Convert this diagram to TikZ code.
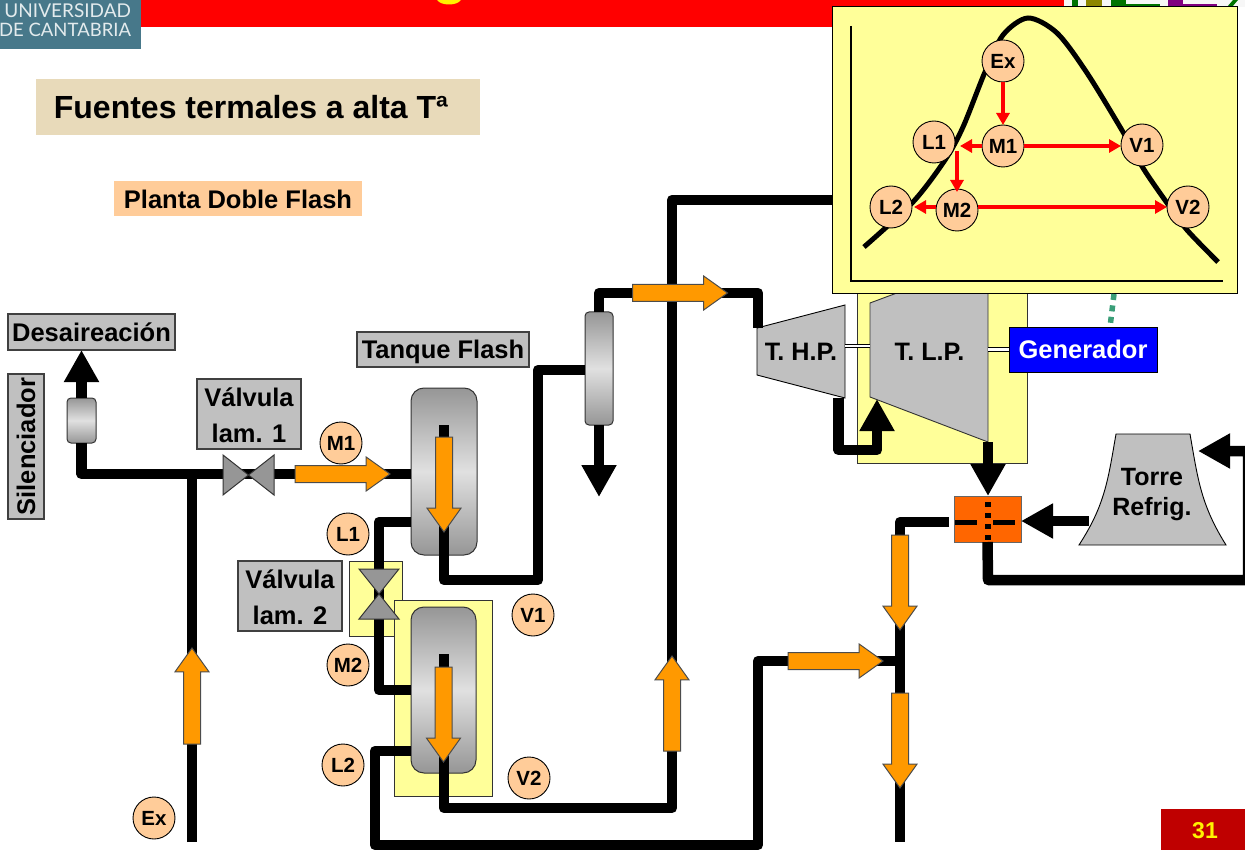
\documentclass[tikz,border=0pt]{standalone}
\usepackage{fontspec}
\setmainfont{Liberation Sans}
\newfontfamily\logofont{Lato}
\usetikzlibrary{arrows.meta,shapes.arrows}
\definecolor{panelyellow}{HTML}{FFFF99}
\definecolor{bubblepeach}{HTML}{FFCC99}
\definecolor{blockgray}{HTML}{C0C0C0}
\definecolor{valvegray}{HTML}{969696}
\definecolor{flowamber}{HTML}{FF9900}
\definecolor{logoteal}{HTML}{47788A}
\definecolor{parchment}{HTML}{E8DABA}
\definecolor{dotgreen}{HTML}{3A9E78}
\begin{document}
\begin{tikzpicture}[x=1pt, y=-1pt,
  every node/.style={inner sep=0pt, outer sep=0pt},
  labeltext/.style={font=\bfseries\fontsize{25.5}{36}\selectfont, align=center, text height=18pt, text depth=0pt},
  panel/.style={draw=black!80, line width=0.8pt, fill=panelyellow},
  grayblock/.style={labeltext, draw=black!75, line width=1.1pt, fill=blockgray},
  bubble/.style={circle, draw=black, line width=0.9pt, fill=bubblepeach, minimum size=42pt,
    font=\bfseries\fontsize{20.5}{24}\selectfont},
  vessel/.style={draw=black!80, line width=1pt, top color=valvegray, bottom color=valvegray, middle color=black!12},
  pipe/.style={line width=10.5pt, line join=round},
  blackflow/.style={pipe, -{Triangle[length=32pt, width=33pt]}},
  steam/.style={draw=black!70, line width=1pt, fill=flowamber, single arrow, anchor=tail, inner xsep=0pt, inner ysep=8pt,
    minimum width=33pt, minimum height=95pt, single arrow head extend=8.5pt, single arrow tip angle=71, single arrow head indent=0pt},
  shaftline/.style={double, double distance=2.4pt, line width=1pt},
  redflow/.style={red, line width=4pt, -{Triangle[length=12pt, width=13pt]}}]
\clip (0,0) rectangle (1245,850);
\useasboundingbox (0,0) rectangle (1245,850);
\fill[red] (141,0) rectangle (1064,27);
\fill[yellow] (437,0) .. controls (441,6) and (457,6) .. (461,0) -- cycle;
\fill[logoteal] (0,0) rectangle (141,49);
\node[anchor=east, text=white!85!logoteal, font=\logofont\fontsize{19}{20}\selectfont] (logoa) at (131,10.5) {UNIVERSIDAD};
\node[anchor=east, text=white!85!logoteal, font=\logofont\fontsize{18.5}{20}\selectfont] (logob) at (131,30) {DE CANTABRIA};
\fill[black!3] (1064,0) rectangle (1245,7);
\fill[green!45!black] (1072,0) rectangle (1078,7);
\fill[olive] (1086,0) rectangle (1102,7);
\fill[green!45!black] (1111,0) rectangle (1126,7);
\fill[green!45!black] (1126,4) rectangle (1160,7);
\fill[violet] (1168,0) rectangle (1183,7);
\fill[violet] (1183,4) rectangle (1217,7);
\fill[green!45!black] (1233,0) -- (1238,0) -- (1232,7) -- (1227,7) -- cycle;
\node[font=\bfseries\fontsize{32}{36}\selectfont, fill=parchment, text height=22.6pt, text depth=0pt, minimum width=444pt, minimum height=56pt] (fuentes) at (258,107) {Fuentes termales a alta Tª\kern14pt};
\node[labeltext, text height=21pt, fill=bubblepeach, minimum width=248pt, minimum height=35pt] (planta) at (238,198.5) {Planta Doble Flash};
\node[grayblock, text height=19.5pt, minimum width=167pt, minimum height=36pt] (desaire) at (91.5,332) {Desaireación};
\node[grayblock, rotate=90, minimum width=145pt, minimum height=36pt] (silencio) at (26,446.5) {Silenciador};
\node[grayblock, text height=19pt, minimum width=172pt, minimum height=35pt] (tanque) at (443,349.5) {Tanque Flash};
\node[grayblock, text height=56pt, minimum width=104pt, minimum height=70pt] (valvtexta) at (249,414) {Válvula\\lam. 1};
\node[grayblock, text height=56pt, minimum width=104pt, minimum height=70pt] (valvtextb) at (290,596) {Válvula\\lam. 2};
\filldraw[panel] (857,280) rectangle (1027,463);
\filldraw[panel] (349,561) rectangle (402,636);
\filldraw[panel] (394,600) rectangle (492,796);
\node[vessel, rounded corners=4pt, minimum width=29pt, minimum height=45pt] (silencer) at (81.5,420.5) {};
\node[vessel, rounded corners=13pt, minimum width=66pt, minimum height=167pt] (tanka) at (444,471.5) {};
\node[vessel, rounded corners=13pt, minimum width=65pt, minimum height=166pt] (tankb) at (443.5,690) {};
\node[vessel, rounded corners=4pt, minimum width=28pt, minimum height=113pt] (separador) at (599,368.5) {};
\filldraw[draw=black, line width=0.9pt, fill=blockgray] (757,328) -- (845,305) -- (845,398) -- (757,375) -- cycle;
\filldraw[draw=black!80, line width=0.9pt, fill=blockgray] (870,303) -- (988,259) -- (988,442) -- (870,397) -- cycle;
\filldraw[draw=black, line width=0.9pt, fill=blockgray] (1079,545) .. controls (1105,505) and (1108,480) .. (1116,434) -- (1190,434) .. controls (1198,480) and (1201,505) .. (1226,545) -- cycle;
\node[labeltext, font=\bfseries\fontsize{25.2}{36}\selectfont] (thp) at (801,351) {T. H.P.};
\node[labeltext, font=\bfseries\fontsize{25.2}{36}\selectfont] (tlp) at (929.5,351) {T. L.P.};
\node[labeltext, text height=48pt, font=\bfseries\fontsize{25}{30}\selectfont] (torre) at (1152,491) {Torre\\Refrig.};
\node[labeltext, text=white, draw=black, line width=0.9pt, fill=blue, minimum width=148pt, minimum height=45pt] (generador) at (1083,349.5) {Generador};
\node[draw=black!60, line width=1pt, fill=orange!80!red, minimum width=67pt, minimum height=46pt] (condensador) at (987.5,519) {};
\node[panel, draw=black, line width=1pt, minimum width=405pt, minimum height=287pt] (grafico) at (1034.5,150.5) {};
\coordinate (stuba) at (444,425);
\coordinate (stubb) at (444,654);
\coordinate (rightturn) at (1248,580);
\coordinate (towerfeed) at (1248,451);
\coordinate (towerout) at (1089,521);
\coordinate (exend) at (192,842);
\coordinate (mixend) at (900,842);
\coordinate (mixjoin) at (900,661);
\coordinate (topturn) at (672,200);
\coordinate (thpin) at (758,328);
\coordinate (thpout) at (838.5,398);
\coordinate (tlpin) at (877,399);
\coordinate (tlpout) at (988,442);
\draw[pipe] (exend) -- (192,474);
\draw[pipe] (silencer.south) |- (tanka.west |- 0,474);
\draw[blackflow] (silencer.north) -- (silencer.north |- desaire.south);
\draw[pipe] (tanka.west |- 0,522) -- (379,522) -- (379,690) -- (tankb.west |- 0,690);
\draw[pipe] (stuba) -- (444,580) -- (538,580) -- (538,370) -- (separador.west |- 0,370);
\draw[pipe] (stubb) -- (444,808) -- (672,808) -- (topturn) -- (grafico.west |- topturn);
\draw[pipe] (tankb.west |- 0,751) -- (375,751) -- (375,845) -- (758,845) -- (758,661) -- (mixjoin);
\draw[pipe] (separador.north) -- (599,293) -- (758,293) -- (thpin);
\draw[blackflow] (separador.south) -- (599,497);
\draw[blackflow] (thpout) -- (838.5,450) -- (877,450) -- (tlpin);
\draw[blackflow] (tlpout) -- (tlpout |- condensador.north);
\draw[blackflow] (towerout) -- (condensador.east |- towerout);
\draw[pipe] (condensador.west |- 0,522) ++(-5,0) -- (900,522) -- (900,540);
\draw[pipe] (mixjoin) -- (mixend);
\draw[pipe] (900,612) -- (mixjoin);
\draw[blackflow] (condensador.south) -- (988,580) -- (rightturn) -- (towerfeed) -- (1198,451);
\draw[shaftline] (845,346) -- (870,346);
\draw[shaftline] (988,349.5) -- (generador.west);
\draw[black, line width=5.5pt, dash pattern=on 5pt off 6pt] (988,502) -- (988,542);
\draw[black, line width=5pt, dash pattern=on 22pt off 16pt] (955,522) -- (1016,522);
\draw[dotgreen, line width=5.5pt, dash pattern=on 6pt off 5.5pt] (1114,294) -- (1110,327);
\filldraw[draw=black!80, line width=1pt, fill=valvegray] (223,455) -- (223,495) -- (274,455) -- (274,495) -- cycle;
\filldraw[draw=black!80, line width=1pt, fill=valvegray] (359,569) -- (399,569) -- (359,619) -- (399,619) -- cycle;
\node[steam] (flowa) at (295,474) {};
\node[steam, rotate=-90] (flowb) at (444,437) {};
\node[steam, rotate=-90] (flowc) at (443.5,667) {};
\node[steam, rotate=90, minimum height=96pt] (flowd) at (192,744) {};
\node[steam, rotate=90] (flowe) at (672,751) {};
\node[steam] (flowf) at (632.5,293) {};
\node[steam] (flowg) at (788,661) {};
\node[steam, rotate=-90] (flowh) at (900,535) {};
\node[steam, rotate=-90] (flowi) at (900,693) {};
\node[bubble] (mone) at (341,443) {M1};
\node[bubble] (lone) at (348,534) {L1};
\node[bubble] (vone) at (533,615) {V1};
\node[bubble] (mtwo) at (348,665) {M2};
\node[bubble] (ltwo) at (343,765) {L2};
\node[bubble] (vtwo) at (529,778) {V2};
\node[bubble] (ex) at (154,818) {Ex};
\draw[line width=1.7pt] (851,26) -- (851,281) -- (1223,281);
\draw[line width=5pt] plot[smooth] coordinates {(864,247) (913,202) (945,160) (963,127) (985,72) (1003,35) (1028,18) (1057,33) (1087,73) (1123,132) (1143,168) (1167,203) (1187,230) (1218,262)};
\node[bubble] (gex) at (1003,61) {Ex};
\node[bubble] (gmone) at (1003,146) {M1};
\node[bubble] (glone) at (934,142) {L1};
\node[bubble] (gvone) at (1142,145) {V1};
\node[bubble] (gltwo) at (891,207) {L2};
\node[bubble] (gmtwo) at (957,210) {M2};
\node[bubble] (gvtwo) at (1188,207) {V2};
\coordinate (gsplit) at (957,151);
\draw[redflow] (gex) -- (gmone);
\draw[redflow, shorten >=3pt] (gmone.west) -- (gsplit |- gmone.west);
\draw[redflow] (gmone.east) -- (gvone.west |- gmone.east);
\draw[redflow] (gsplit) -- ([yshift=-3pt]gmtwo.north);
\draw[redflow, shorten >=2pt] (gmtwo.west |- gltwo) -- (gltwo);
\draw[redflow] (gmtwo.east |- gvtwo) -- (gvtwo);
\node[fill=red!75!black, minimum width=84pt, minimum height=41pt] (pagebox) at (1203,829.5) {};
\node[text=yellow, font=\bfseries\fontsize{23}{26}\selectfont] (pagenum) at (1205,831) {31};
\end{tikzpicture}
\end{document}
